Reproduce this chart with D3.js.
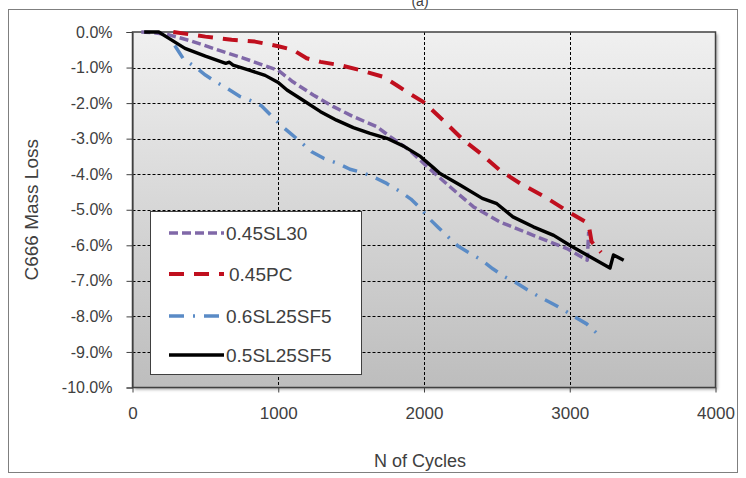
<!DOCTYPE html>
<html><head><meta charset="utf-8">
<script src="https://cdn.jsdelivr.net/npm/d3@7"></script>
<style>body{margin:0;background:#fff}svg{display:block}text{font-family:"Liberation Sans",Arial,sans-serif;fill:#404040}</style>
</head><body><svg id="c" width="746" height="478"></svg>
<script>
const xTicks = [0, 1000, 2000, 3000, 4000];
const yTicks = [0, -1, -2, -3, -4, -5, -6, -7, -8, -9, -10];
const seriesNames = ["0.45SL30", "0.45PC", "0.6SL25SF5", "0.5SL25SF5"];
const sl30 = [[60,0],[150,-0.02],[250,-0.08],[400,-0.25],[590,-0.51],[750,-0.72],[910,-0.95],[1000,-1.08],[1100,-1.40],[1240,-1.77],[1378,-2.10],[1515,-2.38],[1675,-2.66],[1770,-2.95],[1900,-3.32],[2020,-3.78],[2180,-4.36],[2340,-4.92],[2520,-5.34],[2750,-5.72],[2980,-6.09],[3120,-6.42],[3130,-5.62]];
const pc = [[280,0],[400,-0.07],[500,-0.13],[680,-0.22],[840,-0.27],[1000,-0.40],[1100,-0.50],[1195,-0.74],[1290,-0.84],[1420,-0.93],[1560,-1.07],[1720,-1.26],[1810,-1.49],[1880,-1.68],[2000,-1.98],[2130,-2.48],[2270,-3.04],[2390,-3.42],[2520,-3.89],[2660,-4.26],[2830,-4.64],[3000,-5.08],[3110,-5.34],[3135,-5.55],[3150,-5.90],[3215,-6.2]];
const sl25sf5_06 = [[290,-0.38],[350,-0.76],[430,-0.98],[500,-1.21],[570,-1.40],[650,-1.59],[740,-1.82],[806,-1.92],[886,-2.08],[975,-2.45],[1023,-2.64],[1092,-2.88],[1172,-3.16],[1229,-3.37],[1315,-3.56],[1410,-3.70],[1492,-3.86],[1584,-3.96],[1675,-4.12],[1744,-4.26],[1829,-4.47],[1910,-4.70],[1973,-4.95],[2036,-5.25],[2098,-5.50],[2167,-5.77],[2236,-6.03],[2316,-6.23],[2390,-6.40],[2472,-6.66],[2556,-6.89],[2624,-7.03],[2709,-7.25],[2796,-7.46],[2876,-7.63],[2956,-7.81],[3036,-8.02],[3116,-8.21],[3185,-8.47]];
const sl25sf5_05 = [[80,0],[180,0],[250,-0.18],[360,-0.46],[500,-0.68],[640,-0.88],[665,-0.85],[690,-0.93],[800,-1.07],[910,-1.22],[1000,-1.42],[1060,-1.63],[1170,-1.92],[1290,-2.24],[1400,-2.48],[1515,-2.69],[1630,-2.85],[1745,-2.99],[1860,-3.21],[1975,-3.50],[2060,-3.80],[2110,-3.98],[2250,-4.31],[2400,-4.68],[2500,-4.83],[2610,-5.20],[2750,-5.48],[2890,-5.72],[3000,-6.00],[3276,-6.64],[3300,-6.27],[3370,-6.42]];

const svg = d3.select("#c");
const L = 132.5, R = 715.5, T = 32, B = 387.5;
const x = d3.scaleLinear().domain([0, 4000]).range([L, R]);
const y = d3.scaleLinear().domain([0, -10]).range([T, B]);

// outer frame
svg.append("rect").attr("x", 8.5).attr("y", 9.5).attr("width", 729).attr("height", 463)
  .attr("fill", "#fff").attr("stroke", "#7f7f7f").attr("stroke-width", 1);
svg.append("text").attr("x", 420).attr("y", 6).attr("text-anchor", "middle")
  .style("font-size", "14px").text("(a)");

const defs = svg.append("defs");
const g = defs.append("linearGradient").attr("id", "bg").attr("x1", 0).attr("y1", 0).attr("x2", 0).attr("y2", 1);
g.append("stop").attr("offset", "0%").attr("stop-color", "#f0f0f0");
g.append("stop").attr("offset", "100%").attr("stop-color", "#bdbdbd");
const f = defs.append("filter").attr("id", "sh").attr("x", "-5%").attr("y", "-5%").attr("width", "110%").attr("height", "110%");
f.append("feDropShadow").attr("dx", 2).attr("dy", 2).attr("stdDeviation", 1.5).attr("flood-color", "#000").attr("flood-opacity", 0.35);

svg.append("rect").attr("x", L).attr("y", T).attr("width", R - L).attr("height", B - T)
  .attr("fill", "url(#bg)").attr("filter", "url(#sh)");

// grid
const grid = svg.append("g").attr("stroke", "#000").attr("stroke-width", 1).attr("stroke-dasharray", "3,2");
grid.selectAll(".h").data(yTicks.slice(1, -1)).join("line")
  .attr("x1", L).attr("x2", R).attr("y1", d => Math.round(y(d)) + 0.5).attr("y2", d => Math.round(y(d)) + 0.5);
grid.selectAll(".v").data(xTicks.slice(1, -1)).join("line")
  .attr("y1", T).attr("y2", B).attr("x1", d => Math.round(x(d)) + 0.5).attr("x2", d => Math.round(x(d)) + 0.5);

svg.append("rect").attr("x", L).attr("y", T).attr("width", R - L).attr("height", B - T)
  .attr("fill", "none").attr("stroke", "#404040").attr("stroke-width", 1.5);

// axes
const fmtPct = d => d3.format(".1f")(d).replace("\u2212", "-") + "%";
const yAxis = d3.axisLeft(y).tickValues(yTicks).tickSize(6).tickPadding(14).tickFormat(fmtPct);
const ya = svg.append("g").attr("transform", `translate(${L},0)`).call(yAxis);
ya.select(".domain").attr("stroke", "#404040");
ya.selectAll(".tick line").attr("stroke", "#404040");
ya.selectAll("text").style("font-size", "16px").attr("fill", "#404040");

const xAxis = d3.axisBottom(x).tickValues(xTicks).tickSize(5).tickPadding(14).tickFormat(d3.format("d"));
const xa = svg.append("g").attr("transform", `translate(0,${B})`).call(xAxis);
xa.select(".domain").remove();
xa.selectAll(".tick line").attr("stroke", "#404040");
xa.selectAll("text").style("font-size", "17px").attr("fill", "#404040");

svg.append("text").attr("x", (L + R) / 2 - 4).attr("y", 467).attr("text-anchor", "middle")
  .style("font-size", "18px").text("N of Cycles");
svg.append("text").attr("transform", `translate(38,${(T + B) / 2}) rotate(-90)`).attr("text-anchor", "middle")
  .style("font-size", "19px").text("C666 Mass Loss");

// series
const line = d3.line().x(d => x(d[0])).y(d => y(d[1]));
const styles = [
  {data: sl30, color: "#8068a8", w: 3.5, dash: "9,4"},
  {data: pc, color: "#c00f1e", w: 4, dash: "15,10"},
  {data: sl25sf5_06, color: "#5a8bc6", w: 3.5, dash: "15,9,2,9"},
  {data: sl25sf5_05, color: "#000", w: 3.4, dash: null}
];
styles.forEach(s => {
  svg.append("path").datum(s.data).attr("d", line).attr("fill", "none")
    .attr("stroke", s.color).attr("stroke-width", s.w).attr("stroke-dasharray", s.dash)
    .attr("stroke-linejoin", "round");
});

// legend
const lg = svg.append("g");
lg.append("rect").attr("x", 150.5).attr("y", 211.5).attr("width", 211).attr("height", 163)
  .attr("fill", "#fff").attr("stroke", "#404040").attr("stroke-width", 1);
const rows = [233, 274, 316, 355];
seriesNames.forEach((n, i) => {
  const s = styles[i];
  lg.append("line").attr("x1", 169).attr("x2", 224).attr("y1", rows[i]).attr("y2", rows[i])
    .attr("stroke", s.color).attr("stroke-width", s.w).attr("stroke-dasharray", s.dash);
  lg.append("text").attr("x", i === 1 ? 229 : 226).attr("y", rows[i]).attr("dy", "0.36em")
    .style("font-size", "19px").text(n);
});
</script></body></html>
